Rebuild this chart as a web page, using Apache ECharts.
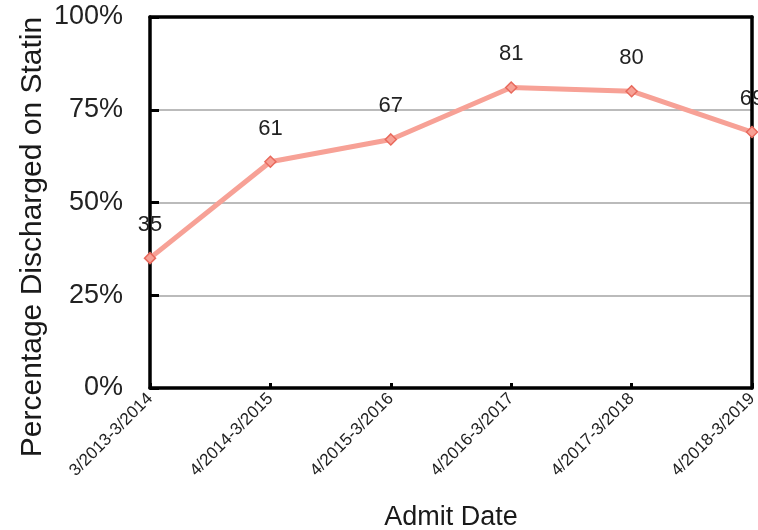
<!DOCTYPE html>
<html>
<head>
<meta charset="utf-8">
<script src="https://cdn.jsdelivr.net/npm/echarts@6/dist/echarts.min.js"></script>
<style>
  html, body { margin: 0; padding: 0; background: #fff; }
  #chart { width: 758px; height: 530px; }
</style>
</head>
<body>
<div id="chart"></div>
<script>
// Admission periods (fiscal years April–March)
const periods = [
  '3/2013-3/2014',
  '4/2014-3/2015',
  '4/2015-3/2016',
  '4/2016-3/2017',
  '4/2017-3/2018',
  '4/2018-3/2019'
];
// Share of patients discharged on a statin, percent
const statinPct = [35, 61, 67, 81, 80, 69];
// Y axis ticks (percent)
const yTicks = [0, 25, 50, 75, 100];

const FONT = '"Liberation Sans", Arial, sans-serif';
const lineColor = '#F7A196';
const markerEdge = '#E8695C';
const frameLine = { show: true, onZero: false, lineStyle: { color: '#000', width: 3.5 } };

const chart = echarts.init(document.getElementById('chart'), null, { renderer: 'canvas' });

chart.setOption({
  animation: false,
  backgroundColor: '#ffffff',
  grid: {
    left: 150, right: 6, top: 17, bottom: 142,
    containLabel: false,
    outerBoundsMode: 'none'
  },
  graphic: [{
    type: 'text',
    x: 33, y: 237,
    rotation: Math.PI / 2,
    style: {
      text: 'Percentage Discharged on Statin',
      fontFamily: FONT, fontSize: 30, fill: '#1a1a1a',
      align: 'center', verticalAlign: 'middle'
    }
  }],
  xAxis: [{
    type: 'category',
    data: periods,
    boundaryGap: false,
    name: 'Admit Date',
    nameLocation: 'middle',
    nameGap: 116,
    nameTextStyle: { fontFamily: FONT, fontSize: 27, color: '#1a1a1a' },
    axisLine: frameLine,
    axisTick: { show: true, inside: true, length: 5, lineStyle: { color: '#000', width: 3 } },
    axisLabel: {
      rotate: 45, margin: 8, interval: 0,
      fontFamily: FONT, fontSize: 17, color: '#222'
    },
    splitLine: { show: false },
    z: 5
  }, {
    // top edge of the frame
    type: 'category',
    data: periods,
    boundaryGap: false,
    position: 'top',
    axisLine: frameLine,
    axisTick: { show: false },
    axisLabel: { show: false },
    splitLine: { show: false },
    z: 5
  }],
  yAxis: [{
    type: 'value',
    min: yTicks[0],
    max: yTicks[yTicks.length - 1],
    interval: yTicks[1] - yTicks[0],
    axisLine: frameLine,
    axisTick: { show: true, inside: true, length: 9, lineStyle: { color: '#000', width: 3 } },
    axisLabel: {
      margin: 27, fontFamily: FONT, fontSize: 27, color: '#222',
      formatter: v => v + '%'
    },
    splitLine: { show: true, lineStyle: { color: '#BBBBBB', width: 2 } },
    z: 5
  }, {
    // right edge of the frame
    type: 'value',
    position: 'right',
    min: yTicks[0],
    max: yTicks[yTicks.length - 1],
    interval: yTicks[1] - yTicks[0],
    axisLine: frameLine,
    axisTick: { show: false },
    axisLabel: { show: false },
    splitLine: { show: false },
    z: 5
  }],
  series: [{
    type: 'line',
    data: statinPct,
    clip: false,
    lineStyle: { color: lineColor, width: 5 },
    symbol: 'diamond',
    symbolSize: 11,
    itemStyle: { color: lineColor, borderColor: markerEdge, borderWidth: 1.5 },
    label: {
      show: true, position: 'top', distance: 16,
      fontFamily: FONT, fontSize: 22, color: '#222'
    },
    z: 6
  }]
});
</script>
</body>
</html>
